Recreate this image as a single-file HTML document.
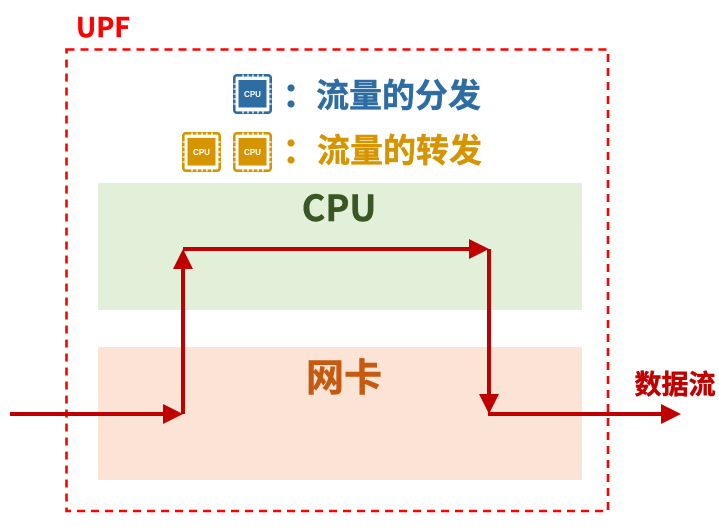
<!DOCTYPE html>
<html>
<head>
<meta charset="utf-8">
<style>
html,body{margin:0;padding:0;background:#fff;width:719px;height:531px;overflow:hidden}
svg{display:block}
text{font-family:"Liberation Sans","Noto Sans CJK SC",sans-serif;font-weight:700}
.n{font-family:"Noto Sans CJK SC","Liberation Sans",sans-serif;font-weight:700}
</style>
</head>
<body>
<svg width="719" height="531" viewBox="0 0 719 531" xmlns="http://www.w3.org/2000/svg">
<defs>
<g id="chip">
  <rect x="1.3" y="1.3" width="36.4" height="37.4" rx="2.5" fill="none" stroke="currentColor" stroke-width="2.6"/>
  <g stroke="#fff" stroke-width="1.6" fill="none">
    <path d="M10 0.5v2.4M15 0.5v2.4M20 0.5v2.4M25 0.5v2.4M30 0.5v2.4M10 37.1v2.4M15 37.1v2.4M20 37.1v2.4M25 37.1v2.4M30 37.1v2.4" opacity="0.8"/>
    <path d="M0.5 10h2.4M0.5 15h2.4M0.5 20h2.4M0.5 25h2.4M0.5 30h2.4M36.1 10h2.4M36.1 15h2.4M36.1 20h2.4M36.1 25h2.4M36.1 30h2.4" opacity="0.8"/>
  </g>
  <rect x="5.5" y="6" width="28" height="27.5" fill="currentColor"/>
  <text x="19.5" y="23" text-anchor="middle" font-size="8" fill="#fff" style="font-family:'Liberation Sans',sans-serif;font-weight:700">CPU</text>
</g>
</defs>

<rect x="98" y="183" width="484" height="127" fill="#e2efd9"/>
<rect x="98" y="347" width="484" height="133" fill="#fbe4d5"/>

<rect x="66.5" y="49.5" width="541.5" height="461.5" fill="none" stroke="#ff0000" stroke-width="2.6" stroke-dasharray="8 6"/>

<text class="n" x="76" y="37" font-size="27" fill="#ff0000" stroke="#ff0000" stroke-width="0.4">UPF</text>

<use href="#chip" x="233" y="74" color="#2e6da4"/>
<use href="#chip" x="182" y="132" color="#d69500"/>
<use href="#chip" x="233" y="132" color="#d69500"/>

<circle cx="291" cy="88" r="3.6" fill="#2e6da4"/>
<circle cx="291" cy="104" r="3.6" fill="#2e6da4"/>
<circle cx="291" cy="143" r="3.6" fill="#d69500"/>
<circle cx="291" cy="160" r="3.6" fill="#d69500"/>

<text class="n" x="316" y="107" font-size="33" fill="#2e6da4" stroke="#2e6da4" stroke-width="0.4">流量的分发</text>
<text class="n" x="317" y="162" font-size="33" fill="#d69500" stroke="#d69500" stroke-width="0.4">流量的转发</text>

<text class="n" x="339" y="221" font-size="36" fill="#385723" text-anchor="middle" stroke="#385723" stroke-width="0.4">CPU</text>
<text class="n" x="344" y="391" font-size="38" fill="#c55a11" text-anchor="middle" stroke="#c55a11" stroke-width="0.5">网卡</text>
<text class="n" x="675" y="394" font-size="27" fill="#c00000" text-anchor="middle" stroke="#c00000" stroke-width="0.5">数据流</text>

<g fill="none" stroke="#c00000" stroke-width="4">
  <path d="M10 414H168"/>
  <path d="M183 414V265"/>
  <path d="M183 249H474"/>
  <path d="M489 249V398"/>
  <path d="M488 414H666"/>
</g>
<g fill="#c00000">
  <polygon points="163,404 183,414 163,424"/>
  <polygon points="173,269 183,249 193,269"/>
  <polygon points="469,239 489,249 469,259"/>
  <polygon points="479,394 499,394 489,414"/>
  <polygon points="661,404 681,414 661,424"/>
</g>
</svg>
</body>
</html>
